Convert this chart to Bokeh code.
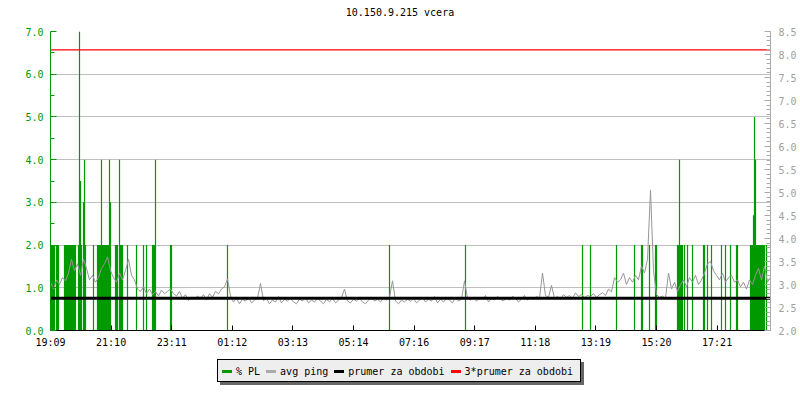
from bokeh.plotting import figure
from bokeh.models import (LinearAxis, Range1d, FixedTicker, NumeralTickFormatter, Div)
from bokeh.layouts import column
from bokeh.embed import file_html
from bokeh.resources import INLINE

TITLE = "10.150.9.215 vcera"

# x axis tick labels (every 121.2 minutes starting at 19:09)
tick_labels = ["19:09", "21:10", "23:11", "01:12", "03:13", "05:14",
               "07:16", "09:17", "11:18", "13:19", "15:20", "17:21"]
tick_step_s = 7272  # seconds between labelled ticks
period_s = 86400

# avg ping (ms, right axis) sampled every 6 minutes from 19:09
ping_step_min = 6
ping_ms = [
    3.05, 2.90, 3.10, 3.00, 3.15, 3.08, 3.25, 3.55, 3.30, 3.45,
    3.20, 3.55, 3.35, 3.10, 3.20, 3.05, 3.15, 3.35, 3.45, 3.60,
    3.30, 3.15, 3.05, 3.25, 3.10, 3.30, 3.55, 3.20, 3.10, 2.90,
    2.85, 2.95, 2.80, 2.90, 2.78, 2.85, 2.75, 2.88, 2.80, 2.85,
    2.90, 2.80, 2.75, 2.85, 2.70, 2.78, 2.65, 2.72, 2.68, 2.75,
    2.70, 2.78, 2.66, 2.80, 2.72, 2.85, 2.80, 2.90, 2.95, 3.12,
    2.75, 2.62, 2.70, 2.58, 2.68, 2.64, 2.72, 2.60, 2.66, 2.70,
    3.02, 2.65, 2.70, 2.58, 2.66, 2.62, 2.74, 2.60, 2.68, 2.64,
    2.70, 2.62, 2.58, 2.68, 2.64, 2.72, 2.60, 2.66, 2.62, 2.70,
    2.64, 2.58, 2.68, 2.62, 2.70, 2.60, 2.66, 2.72, 2.90, 2.64,
    2.60, 2.68, 2.64, 2.70, 2.62, 2.58, 2.66, 2.72, 2.64, 2.68,
    2.62, 2.70, 2.66, 2.72, 3.08, 2.64, 2.58, 2.66, 2.62, 2.68,
    2.64, 2.70, 2.60, 2.66, 2.72, 2.62, 2.68, 2.64, 2.74, 2.60,
    2.68, 2.62, 2.70, 2.66, 2.60, 2.72, 2.64, 2.68, 3.08, 2.70,
    2.66, 2.72, 2.64, 2.70, 2.68, 2.76, 2.62, 2.70, 2.66, 2.74,
    2.68, 2.64, 2.72, 2.66, 2.74, 2.70, 2.62, 2.68, 2.76, 2.66,
    2.72, 2.68, 2.74, 2.70, 3.25, 2.76, 2.72, 2.98, 2.70, 2.74,
    2.68, 2.78, 2.72, 2.76, 2.70, 2.82, 2.74, 2.78, 2.72, 2.76,
    2.74, 2.80, 2.72, 2.78, 2.82, 2.76, 2.90, 2.84, 3.15, 3.05,
    3.10, 3.25, 3.00, 3.15, 3.05, 3.20, 3.10, 3.40, 3.25, 3.55,
    5.05, 3.30, 2.78, 2.72, 2.75, 2.70, 3.25, 2.90, 3.05, 2.85,
    3.00, 3.10, 2.95, 3.15, 3.05, 3.20, 3.00, 3.10, 3.25, 3.45,
    3.50, 3.30, 3.20, 3.10, 3.25, 3.05, 3.15, 3.20, 3.05, 3.10,
    2.95, 3.05, 2.90, 3.10, 3.00, 3.20, 3.35, 3.10, 3.40, 3.05,
    3.15,
]

# packet loss (%, left axis): minute from 19:09 and value
pl_minute = [
    2, 4, 6, 8, 12, 14, 16, 28, 30, 32, 34, 36, 38, 40, 42, 44, 46, 48, 50,
    56, 58, 60, 62, 66, 68, 70, 86, 94, 96, 98, 100, 102, 104, 106, 108,
    110, 112, 114, 116, 118, 120, 130, 132, 134, 138, 140, 142, 144, 154,
    172, 186, 192, 204, 206, 208, 210, 240, 242,
    354, 678, 830, 1064, 1080, 1132, 1168, 1182, 1184, 1198, 1210, 1212,
    1254, 1256, 1258, 1260, 1262, 1264, 1268, 1274, 1284, 1306, 1308, 1314,
    1322, 1342, 1350, 1360, 1372, 1374, 1400, 1402, 1404, 1406, 1408, 1410,
    1412, 1414, 1416, 1418, 1420, 1422, 1424, 1426, 1428, 1432,
]
pl_value = [
    2.0, 2.0, 2.0, 2.0, 2.0, 2.0, 2.0, 2.0, 2.0, 2.0, 2.0, 2.0, 2.0, 2.0, 2.0, 2.0, 2.0, 2.0, 2.0,
    2.0, 7.0, 3.5, 2.0, 3.0, 4.0, 2.0, 2.0, 2.0, 2.0, 2.0, 2.0, 4.0, 2.0, 2.0, 2.0,
    2.0, 2.0, 2.0, 2.0, 4.0, 3.0, 2.0, 2.0, 2.0, 4.0, 2.0, 2.0, 2.0, 2.0,
    2.0, 2.0, 2.0, 2.0, 2.0, 2.0, 4.0, 2.0, 2.0,
    2.0, 2.0, 2.0, 2.0, 2.0, 2.0, 2.0, 2.0, 2.0, 2.0, 2.0, 2.0,
    2.0, 2.0, 4.0, 2.0, 2.0, 2.0, 2.0, 2.0, 2.0, 2.0, 2.0, 2.0,
    2.0, 2.0, 2.0, 2.0, 2.0, 2.0, 2.0, 2.0, 2.0, 2.7, 5.0, 4.0,
    2.0, 2.0, 2.0, 2.0, 2.0, 2.0, 2.0, 2.0, 2.0, 2.0,
]

prumer = 2.70  # average ping over the period (ms)

legend_labels = ["% PL", "avg ping", "prumer za obdobi", "3*prumer za obdobi"]

GREEN = "#009900"
GRAY = "#979797"
FONT = "DejaVu Sans Mono"
legend_colors = [GREEN, "#aaaaaa", "black", "red"]

# title as an HTML block above the chart
title_div = Div(
    text=(f'<div style="position:relative;width:800px;height:25px;">'
          f'<div style="position:absolute;left:0;top:7px;width:800px;'
          f'text-align:center;font-family:\'{FONT}\';font-size:10px;'
          f'line-height:12px;color:black;white-space:nowrap;">{TITLE}</div></div>'),
    width=800, height=25, margin=0)

p = figure(frame_width=720, frame_height=299, output_backend="svg",
           toolbar_location=None,
           x_range=Range1d(0, period_s), y_range=Range1d(0, 7),
           min_border_left=50, min_border_right=30, min_border_top=6,
           min_border_bottom=29)
p.outline_line_color = None
p.background_fill_color = "white"
p.border_fill_color = "white"

p.extra_y_ranges = {"ping": Range1d(2.0, 8.5)}

# grid
p.xgrid.visible = False
p.ygrid.ticker = FixedTicker(ticks=[1, 2, 3, 4, 5, 6, 7])
p.ygrid.grid_line_color = "#c0c0c0"
p.ygrid.grid_line_width = 1

# left axis
ya = p.yaxis[0]
ya.ticker = FixedTicker(ticks=[0, 1, 2, 3, 4, 5, 6, 7],
                        minor_ticks=[0.5, 1.5, 2.5, 3.5, 4.5, 5.5, 6.5])
ya.formatter = NumeralTickFormatter(format="0.0")
ya.axis_line_color = GREEN
ya.major_tick_line_color = GREEN
ya.minor_tick_line_color = GREEN
ya.major_label_text_color = GREEN
ya.major_tick_in = 6
ya.major_tick_out = 0
ya.minor_tick_in = 4
ya.minor_tick_out = 0
ya.major_label_standoff = 7
ya.major_label_text_font = FONT
ya.major_label_text_font_size = "10px"

# right axis
ra = LinearAxis(y_range_name="ping")
ra.ticker = FixedTicker(ticks=[2.0 + 0.5 * k for k in range(14)],
                        minor_ticks=[2.0 + 0.1 * k for k in range(66)])
ra.formatter = NumeralTickFormatter(format="0.0")
ra.axis_line_color = "#aaaaaa"
ra.major_tick_line_color = "#aaaaaa"
ra.minor_tick_line_color = "#aaaaaa"
ra.major_label_text_color = "#a0a0a0"
ra.major_tick_in = 6
ra.major_tick_out = 0
ra.minor_tick_in = 4
ra.minor_tick_out = 0
ra.major_label_standoff = 8
ra.major_label_text_font = FONT
ra.major_label_text_font_size = "10px"
p.add_layout(ra, "right")

# bottom axis
xa = p.xaxis[0]
tick_pos = [k * tick_step_s for k in range(len(tick_labels))]
xa.ticker = FixedTicker(ticks=tick_pos, minor_ticks=[])
xa.major_label_overrides = {t: lab for t, lab in zip(tick_pos, tick_labels)}
xa.axis_line_color = "black"
xa.major_tick_line_color = "black"
xa.major_tick_in = 5
xa.major_tick_out = 0
xa.major_label_standoff = 6
xa.major_label_text_font = FONT
xa.major_label_text_font_size = "10px"
xa.major_label_text_color = "black"

# packet loss bars
pl_x = [m * 60 for m in pl_minute]
p.segment(x0=pl_x, y0=[0] * len(pl_x), x1=pl_x, y1=pl_value,
          line_color=GREEN, line_width=1.2)

# ping line
ping_x = [i * ping_step_min * 60 for i in range(len(ping_ms))]
p.line(ping_x, ping_ms, line_color=GRAY, line_width=1, y_range_name="ping")

# average and 3*average
p.line([0, period_s], [prumer, prumer], line_color="black", line_width=3,
       y_range_name="ping")
p.line([0, period_s], [3 * prumer, 3 * prumer], line_color="red", line_width=1.3,
       y_range_name="ping")

# legend as an HTML box below the chart
items_html = ""
for i, (lab, col) in enumerate(zip(legend_labels, legend_colors)):
    ml = 4 if i == 0 else 6
    items_html += (
        f'<span style="display:inline-block;width:10px;height:3px;background:{col};'
        f'margin:0 4px 0 {ml}px;vertical-align:middle"></span>'
        f'<span style="vertical-align:middle">{lab}</span>'
    )
legend_html = (
    f'<div style="position:relative;width:800px;height:41px;margin:0;padding:0;">'
    f'<div style="position:absolute;left:217px;top:0px;width:364px;height:23px;'
    f'box-sizing:border-box;border:1px solid black;background:#eeeeee;'
    f'box-shadow:3px 3px 0 #666666;font-family:\'{FONT}\';font-size:10px;'
    f'color:black;white-space:nowrap;line-height:21px;padding:0;">'
    f'{items_html}</div></div>'
)
legend_div = Div(text=legend_html, width=800, height=41, margin=0)

layout = column(title_div, p, legend_div, spacing=0)

open("out.html", "w").write(file_html(layout, INLINE))
